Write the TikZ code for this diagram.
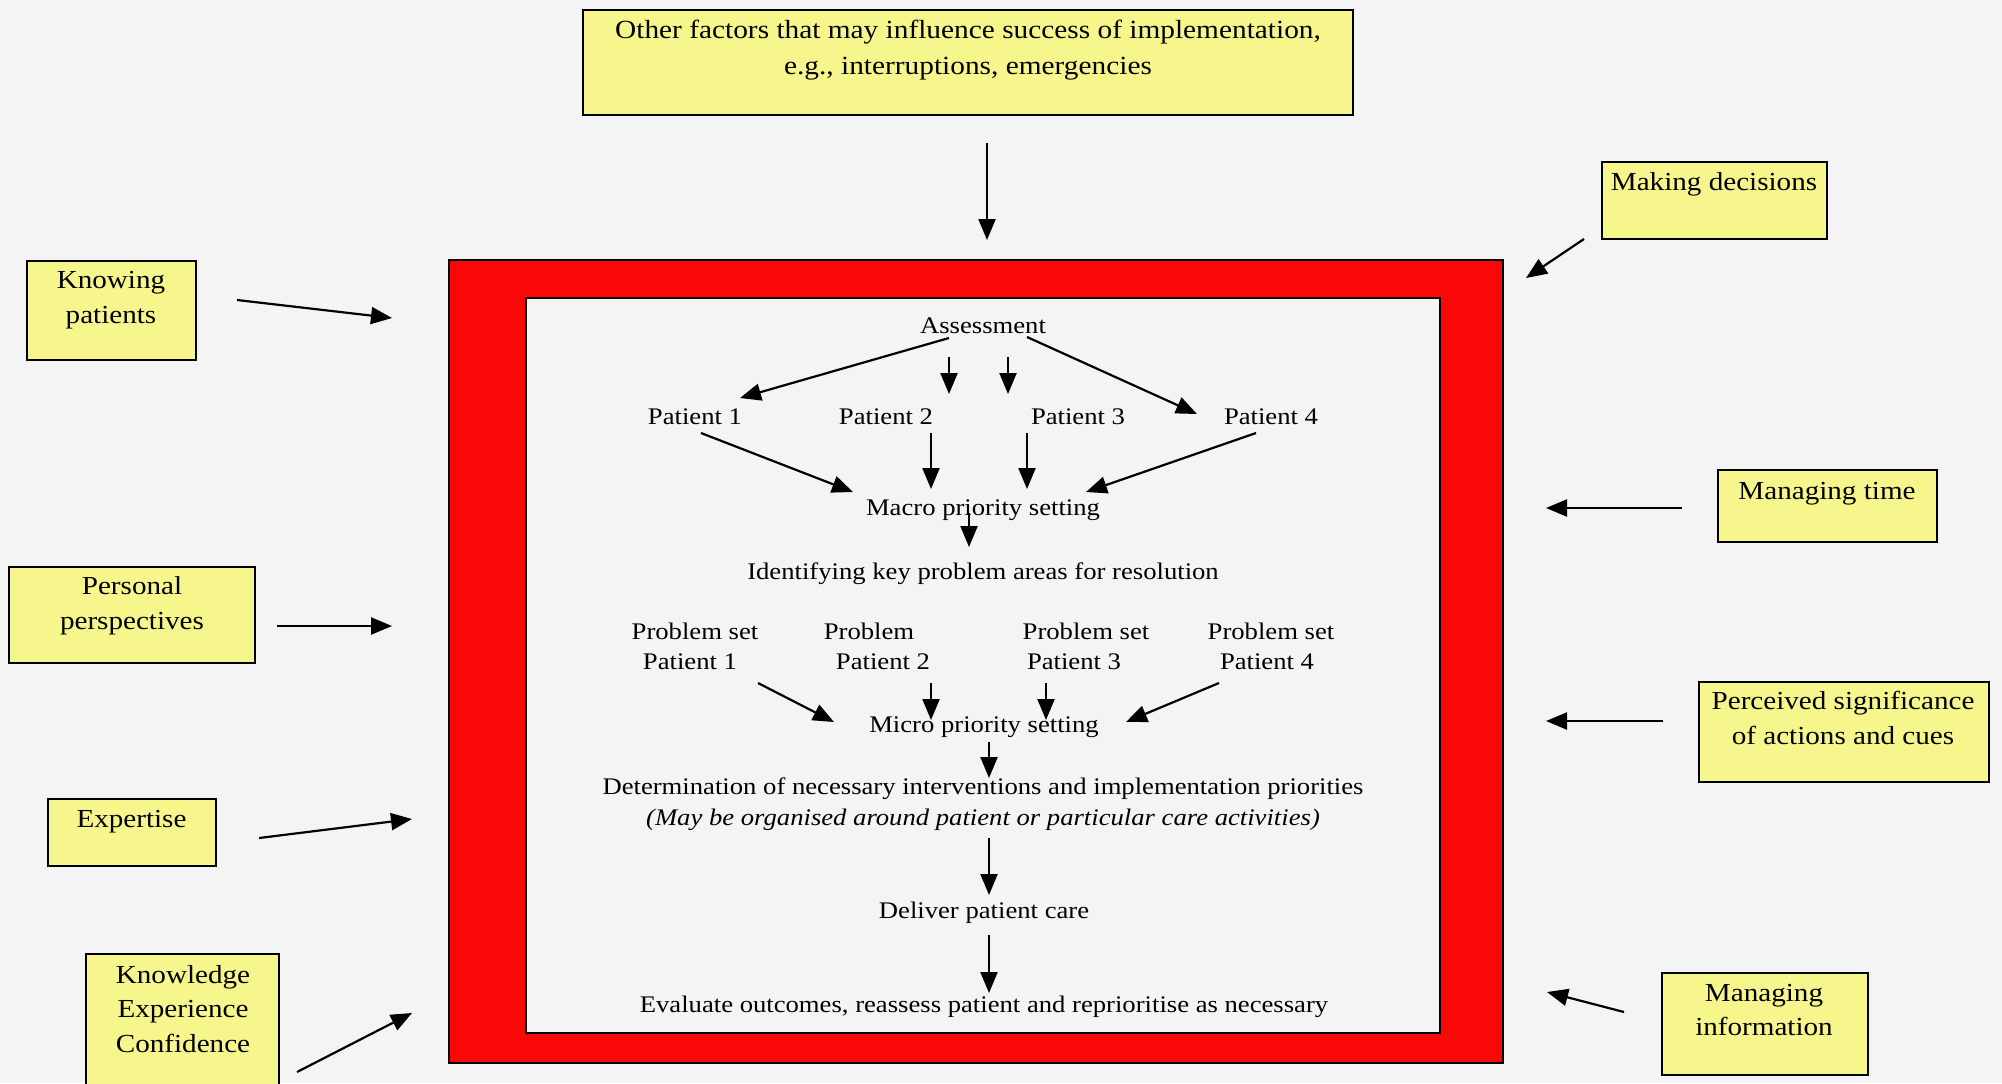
\documentclass[tikz,border=0pt]{standalone}
\usepackage{fontspec}
\setmainfont{Liberation Serif}[FakeStretch=1.12]
\usetikzlibrary{arrows.meta}

\definecolor{bgcol}{RGB}{244,244,244}
\definecolor{boxyellow}{RGB}{246,246,140}
\definecolor{framered}{RGB}{250,8,8}

\tikzset{
  factor/.style={draw=black, line width=0.9pt, fill=boxyellow, inner sep=0pt, outer sep=0pt},
  lbl/.style={font=\fontsize{13}{17.4}\selectfont, align=center, inner sep=0pt},
  toplbl/.style={font=\fontsize{13.1}{18}\selectfont, align=center, inner sep=0pt},
  flow/.style={font=\fontsize{11.9}{15.5}\selectfont, inner sep=0pt, text height=0.7em, text depth=0.2em, yshift=-1.3pt},
  arr/.style={line width=1.1pt, -{Triangle[length=10.5pt,width=8.5pt]}},
}

\begin{document}
\begin{tikzpicture}[x=0.5pt, y=-0.5pt]
\useasboundingbox (0,0) rectangle (2002,1083);
\clip (0,0) rectangle (2002,1083);
\fill[bgcol] (0,0) rectangle (2002,1083);

% central red frame with its white working area
\draw[line width=0.8pt, fill=framered] (449,260) rectangle (1503,1063);
\draw[line width=0.8pt, fill=bgcol] (526,298) rectangle (1440,1033);

% top influencing factor
\node[factor, minimum width=385pt, minimum height=52.5pt] (topbox) at (968,62.5) {};
\node[toplbl] (toptxt) at (968,50) {Other factors that may influence success of implementation,\\e.g., interruptions, emergencies};
\coordinate (topA) at (987,143);
\coordinate (topB) at (987,240);
\draw[arr] (topA) -- (topB);

% left-hand factors
\node[factor, minimum width=84.5pt, minimum height=49.5pt] (knowbox) at (111.5,310.5) {};
\node[lbl] (knowtxt) at (111,300) {Knowing\\patients};
\node[factor, minimum width=123pt, minimum height=48pt] (persbox) at (132,615) {};
\node[lbl] (perstxt) at (132,606) {Personal\\perspectives};
\node[factor, minimum width=84pt, minimum height=33.5pt] (expbox) at (132,832.5) {};
\node[lbl] (exptxt) at (131.5,822) {Expertise};
\node[factor, minimum width=96.5pt, minimum height=68pt] (kecbox) at (182.5,1022) {};
\node[lbl] (kectxt) at (183,1009) {Knowledge\\Experience\\Confidence};

% right-hand factors
\node[factor, minimum width=112.5pt, minimum height=38.5pt] (decbox) at (1714.5,200.5) {};
\node[lbl] (dectxt) at (1714,184.5) {Making decisions};
\node[factor, minimum width=109.5pt, minimum height=36pt] (timebox) at (1827.5,506) {};
\node[lbl] (timetxt) at (1827,494) {Managing time};
\node[factor, minimum width=145pt, minimum height=50pt] (sigbox) at (1844,732) {};
\node[lbl] (sigtxt) at (1843,718) {Perceived significance\\of actions and cues};
\node[factor, minimum width=103pt, minimum height=51pt] (infobox) at (1765,1024) {};
\node[lbl] (infotxt) at (1764,1010) {Managing\\information};

% arrows from the factors towards the frame
\coordinate (knowA) at (237,300);   \coordinate (knowB) at (392,318);
\coordinate (persA) at (277,626);   \coordinate (persB) at (392,626);
\coordinate (expA)  at (259,838);   \coordinate (expB)  at (412,819);
\coordinate (kecA)  at (297,1072);  \coordinate (kecB)  at (412,1013);
\coordinate (decA)  at (1584,239);  \coordinate (decB)  at (1526,278);
\coordinate (timeA) at (1682,508);  \coordinate (timeB) at (1546,508);
\coordinate (sigA)  at (1663,721);  \coordinate (sigB)  at (1546,721);
\coordinate (infoA) at (1624,1012); \coordinate (infoB) at (1547,992);
\foreach \f in {know,pers,exp,kec,dec,time,sig,info}
  \draw[arr] (\f A) -- (\f B);

% prioritisation process
\node[flow] (assess) at (983,326) {Assessment};
\node[flow] (pat1) at (695,417) {Patient 1};
\node[flow] (pat2) at (886,417) {Patient 2};
\node[flow] (pat3) at (1078,417) {Patient 3};
\node[flow] (pat4) at (1271,417) {Patient 4};
\node[flow] (macro) at (983,508) {Macro priority setting};
\node[flow] (ident) at (983,572) {Identifying key problem areas for resolution};
\node[flow] (ps1a) at (695,632) {Problem set};
\node[flow] (ps1b) at (690,662) {Patient 1};
\node[flow] (ps2a) at (869,632) {Problem};
\node[flow] (ps2b) at (883,662) {Patient 2};
\node[flow] (ps3a) at (1086,632) {Problem set};
\node[flow] (ps3b) at (1074,662) {Patient 3};
\node[flow] (ps4a) at (1271,632) {Problem set};
\node[flow] (ps4b) at (1267,662) {Patient 4};
\node[flow] (micro) at (984,725) {Micro priority setting};
\node[flow] (determ) at (983,787) {Determination of necessary interventions and implementation priorities};
\node[flow] (organ) at (983,818) {\itshape (May be organised around patient or particular care activities)};
\node[flow] (deliver) at (984,911) {Deliver patient care};
\node[flow] (evaluate) at (984,1005) {Evaluate outcomes, reassess patient and reprioritise as necessary};

% connectors of the process
\coordinate (a1s) at (949,338);  \coordinate (a1e) at (740,398);
\coordinate (a2s) at (949,357);  \coordinate (a2e) at (949,394);
\coordinate (a3s) at (1008,357); \coordinate (a3e) at (1008,394);
\coordinate (a4s) at (1027,337); \coordinate (a4e) at (1197,414);
\coordinate (m1s) at (701,433);  \coordinate (m1e) at (853,492);
\coordinate (m2s) at (931,433);  \coordinate (m2e) at (931,489);
\coordinate (m3s) at (1027,433); \coordinate (m3e) at (1027,489);
\coordinate (m4s) at (1256,433); \coordinate (m4e) at (1086,492);
\coordinate (ks)  at (969,513);  \coordinate (ke)  at (969,547);
\coordinate (p1s) at (758,683);  \coordinate (p1e) at (834,722);
\coordinate (p2s) at (931,683);  \coordinate (p2e) at (931,720);
\coordinate (p3s) at (1046,683); \coordinate (p3e) at (1046,720);
\coordinate (p4s) at (1219,683); \coordinate (p4e) at (1126,722);
\coordinate (ds)  at (989,742);  \coordinate (de)  at (989,778);
\coordinate (cs)  at (989,838);  \coordinate (ce)  at (989,895);
\coordinate (es)  at (989,935);  \coordinate (ee)  at (989,993);
\foreach \s/\e in {a1s/a1e,a2s/a2e,a3s/a3e,a4s/a4e,m1s/m1e,m2s/m2e,m3s/m3e,m4s/m4e,
                   ks/ke,p1s/p1e,p2s/p2e,p3s/p3e,p4s/p4e,ds/de,cs/ce,es/ee}
  \draw[arr] (\s) -- (\e);
\end{tikzpicture}
\end{document}
